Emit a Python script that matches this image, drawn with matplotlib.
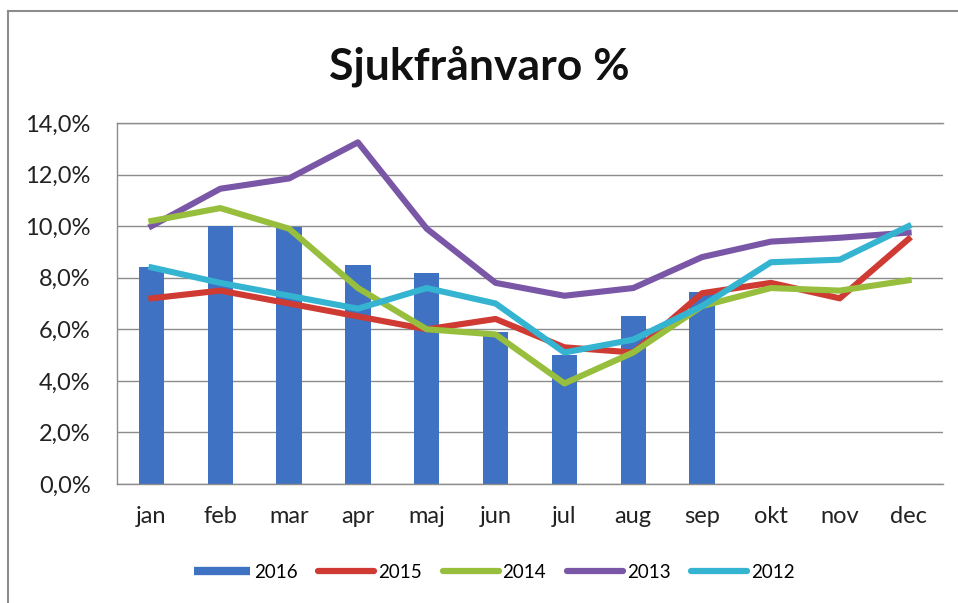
import matplotlib
matplotlib.use("Agg")
import matplotlib.pyplot as plt
from matplotlib.lines import Line2D
from matplotlib.ticker import FuncFormatter

plt.rcParams['font.family'] = ['Lato', 'DejaVu Sans']

months = ["jan", "feb", "mar", "apr", "maj", "jun", "jul", "aug", "sep", "okt", "nov", "dec"]
v2016 = [8.4, 10.0, 9.95, 8.5, 8.2, 5.9, 5.0, 6.5, 7.45]
v2015 = [7.2, 7.5, 7.0, 6.5, 6.0, 6.4, 5.3, 5.1, 7.4, 7.8, 7.2, 9.5]
v2014 = [10.2, 10.7, 9.9, 7.6, 6.0, 5.8, 3.9, 5.1, 6.9, 7.6, 7.5, 7.9]
v2013 = [10.0, 11.45, 11.85, 13.25, 9.9, 7.8, 7.3, 7.6, 8.8, 9.4, 9.55, 9.75]
v2012 = [8.4, 7.8, 7.3, 6.8, 7.6, 7.0, 5.1, 5.6, 6.9, 8.6, 8.7, 10.0]
yticks = [0, 2, 4, 6, 8, 10, 12, 14]

c2016 = "#3F72C3"
c2015 = "#CF3A32"
c2014 = "#97BE3C"
c2013 = "#7A56A6"
c2012 = "#35B4D2"

fig = plt.figure(figsize=(9.58, 6.03), dpi=100)
ax = fig.add_axes([117/958, 1-484/603, (943-117)/958, (484-123)/603])

x = list(range(len(months)))
ax.bar(x[:len(v2016)], v2016, width=0.37, color=c2016, zorder=2, label="2016")
lw = 4.4
ax.plot(x, v2015, color=c2015, lw=lw, zorder=3, label="2015", solid_joinstyle='round')
ax.plot(x, v2014, color=c2014, lw=lw, zorder=4, label="2014", solid_joinstyle='round')
ax.plot(x, v2013, color=c2013, lw=lw, zorder=3, label="2013", solid_joinstyle='round')
ax.plot(x, v2012, color=c2012, lw=lw, zorder=5, label="2012", solid_joinstyle='round')

ax.set_xlim(-0.5, 11.5)
ax.set_ylim(0, 14)
ax.set_yticks(yticks)
ax.yaxis.set_major_formatter(FuncFormatter(lambda v, p: f"{v:.1f}".replace(".", ",") + "%"))
ax.set_xticks(x)
ax.set_xticklabels(months)
ax.tick_params(axis='both', length=0, labelsize=17, colors="#222222")
ax.tick_params(axis='x', pad=16)
ax.tick_params(axis='y', pad=19)
ax.grid(axis='y', color="#8C8C8C", lw=1.0, zorder=0)
ax.set_axisbelow(True)
for s in ax.spines.values():
    s.set_color("#8C8C8C")
    s.set_linewidth(1.0)
ax.spines['right'].set_visible(False)

fig.text(0.5, 1-66/603, "Sjukfrånvaro %", ha='center', va='center', fontsize=32, fontweight='bold', color="#111111")

handles = [
    Line2D([0], [0], color=c2016, lw=6, solid_capstyle='butt'),
    Line2D([0], [0], color=c2015, lw=4.5, solid_capstyle='round'),
    Line2D([0], [0], color=c2014, lw=4.5, solid_capstyle='round'),
    Line2D([0], [0], color=c2013, lw=4.5, solid_capstyle='round'),
    Line2D([0], [0], color=c2012, lw=4.5, solid_capstyle='round'),
]
fig.legend(handles, ["2016", "2015", "2014", "2013", "2012"], loc='center',
           bbox_to_anchor=(0.516, 1-572/603), ncol=5, frameon=False, fontsize=13.5,
           handlelength=3.0, handletextpad=0.2, columnspacing=1.1)

# outer frame
fig.add_artist(Line2D([8/958, 8/958], [0, 1-11/603], color="#8C8C8C", lw=1.5, transform=fig.transFigure))
fig.add_artist(Line2D([8/958, 1], [1-11/603, 1-11/603], color="#8C8C8C", lw=1.5, transform=fig.transFigure))

fig.savefig("out.png", dpi=100)
